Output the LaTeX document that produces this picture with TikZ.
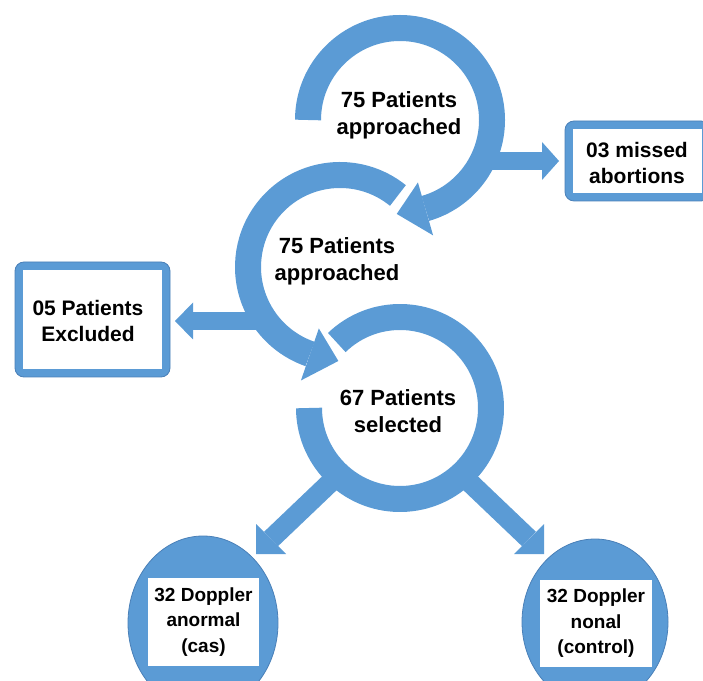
\documentclass[tikz,border=0pt]{standalone}
\usepackage{fontspec}
\setmainfont{Liberation Sans}
\usetikzlibrary{calc,shapes.geometric}
\definecolor{ringblue}{HTML}{5B9BD5}
\definecolor{edgeblue}{HTML}{4A80B8}
\begin{document}
\begin{tikzpicture}[x=1pt,y=1pt,
  ring/.style={draw=ringblue, line width=26pt},
  shaft/.style={draw=ringblue, line width=18pt},
  dshaft/.style={draw=ringblue, line width=20pt},
  head/.style={fill=ringblue},
  bigtxt/.style={font=\bfseries\fontsize{22}{27}\selectfont, align=center, text=black, inner sep=0pt},
  boxtxt/.style={font=\bfseries\fontsize{21}{26}\selectfont, align=center, text=black, inner sep=0pt},
  elltxt/.style={font=\bfseries\fontsize{19}{25.5}\selectfont, align=center, text=black, inner sep=0pt},
  outerbox/.style={rectangle, rounded corners=9pt, fill=ringblue, draw=edgeblue, line width=0.8pt, inner sep=0pt},
  innerbox/.style={rectangle, fill=white, inner sep=0pt},
  oval/.style={ellipse, fill=ringblue, draw=edgeblue, line width=0.8pt, inner sep=0pt}
]
\useasboundingbox (0,0) rectangle (703,680);

% ---------- circle 1 (top) ----------
\coordinate (c1) at (400,560);
\draw[ring] ($(c1)+(180:92)$) arc[start angle=180, end angle=-74, radius=92];
\fill[head] ($(c1)+(-74:65)$) -- ($(c1)+(-74:120)$) -- ($(c1)+(-92:94)$) -- cycle;
\node[bigtxt] (t1) at (399,565) {75 Patients\\approached};

% arrow to box 1
\coordinate (a1s) at (490,519);
\coordinate (a1b) at (542,519);
\draw[shaft] (a1s) -- (a1b);
\fill[head] (542,538) -- (542,500) -- (559,519) -- cycle;

% ---------- circle 2 (middle) ----------
\coordinate (c2) at (340,413);
\draw[ring] ($(c2)+(51:92)$) arc[start angle=51, end angle=251, radius=92];
\fill[head] ($(c2)+(251:65)$) -- ($(c2)+(251:120)$) -- ($(c2)+(269:94)$) -- cycle;
\node[bigtxt] (t2) at (337,418.5) {75 Patients\\approached};

% arrow to box 2
\coordinate (a2s) at (258,359);
\coordinate (a2b) at (193,359);
\draw[shaft] (a2s) -- (a2b);
\fill[head] (193,377.5) -- (193,340.5) -- (175,359) -- cycle;

% ---------- circle 3 (bottom) ----------
\coordinate (c3) at (400,272);
\draw[ring] ($(c3)+(134:91)$) arc[start angle=134, end angle=-180, radius=91];
\node[bigtxt] (t3) at (398,268.5) {67 Patients\\selected};

% diagonal arrows
\coordinate (d1s) at (336,203);
\coordinate (d1b) at (271,141);
\draw[dshaft] (d1s) -- (d1b);
\fill[head] (256,156) -- (286,126) -- (256,126) -- cycle;

\coordinate (d2s) at (464,203);
\coordinate (d2b) at (529,141);
\draw[dshaft] (d2s) -- (d2b);
\fill[head] (544,156) -- (514,126) -- (544,126) -- cycle;

% ---------- box 1 ----------
\node[outerbox, minimum width=145pt, minimum height=80pt] (b1) at (637.5,519) {};
\node[innerbox, minimum width=129pt, minimum height=64pt] (b1i) at (b1.center) {};
\node[boxtxt] (b1t) at (637,517) {03 missed\\abortions};

% ---------- box 2 ----------
\node[outerbox, minimum width=155pt, minimum height=115pt] (b2) at (92.5,360.5) {};
\node[innerbox, minimum width=139pt, minimum height=99pt] (b2i) at (b2.center) {};
\node[boxtxt] (b2t) at (88,359) {05 Patients\\Excluded};

% ---------- ellipses ----------
\node[oval, minimum width=150pt, minimum height=174pt] (e1) at (203,57) {};
\node[innerbox, minimum width=111pt, minimum height=88pt] (e1i) at (203.5,58) {};
\node[elltxt] (e1t) at (203.5,58) {32 Doppler\\anormal\\(cas)};

\node[oval, minimum width=146pt, minimum height=166pt] (e2) at (595,58) {};
\node[innerbox, minimum width=112pt, minimum height=87pt] (e2i) at (596,56.5) {};
\node[elltxt] (e2t) at (596,56.5) {32 Doppler\\nonal\\(control)};
\end{tikzpicture}
\end{document}
